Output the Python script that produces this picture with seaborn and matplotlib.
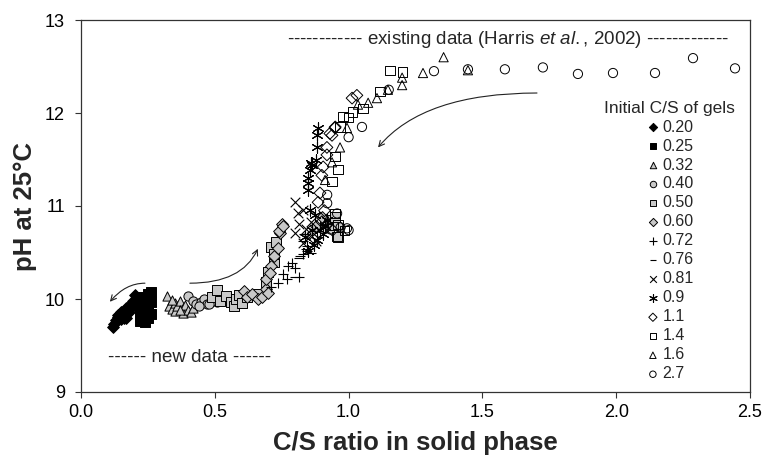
import matplotlib
matplotlib.use("Agg")
import matplotlib.pyplot as plt
import seaborn as sns

# Initial C/S of gels (legend labels)
labels = ['0.20', '0.25', '0.32', '0.40', '0.50', '0.60', '0.72', '0.76',
          '0.81', '0.9', '1.1', '1.4', '1.6', '2.7']

# new data
x_020 = [0.12, 0.125, 0.13, 0.138, 0.14, 0.145, 0.15, 0.155, 0.16, 0.164, 0.17, 0.175,
         0.18, 0.185, 0.19, 0.195, 0.20, 0.15, 0.17, 0.21, 0.16, 0.18]
y_020 = [9.70, 9.73, 9.77, 9.81, 9.83, 9.84, 9.86, 9.85, 9.87, 9.86, 9.90, 9.88,
         9.91, 9.93, 9.96, 9.98, 10.04, 9.79, 9.80, 9.91, 9.80, 9.86]
x_025 = [0.22, 0.22, 0.22, 0.23, 0.23, 0.24, 0.24, 0.25, 0.25, 0.25, 0.26, 0.26,
         0.26, 0.24, 0.23, 0.25]
y_025 = [9.76, 9.82, 9.90, 9.78, 9.95, 9.86, 10.00, 9.80, 9.92, 10.05, 9.84, 9.97,
         10.08, 9.75, 10.02, 9.88]
x_032 = [0.32, 0.33, 0.34, 0.35, 0.35, 0.36, 0.37, 0.38, 0.38, 0.39, 0.40, 0.41,
         0.34, 0.37, 0.42]
y_032 = [10.03, 9.93, 9.89, 9.96, 9.87, 9.92, 9.98, 9.90, 9.85, 9.94, 9.88, 9.86,
         9.99, 9.88, 9.90]
x_040 = [0.40, 0.42, 0.43, 0.45, 0.46, 0.47, 0.49, 0.50, 0.51, 0.53, 0.55, 0.44,
         0.48, 0.93, 0.96]
y_040 = [10.03, 9.98, 9.95, 9.97, 10.00, 9.95, 9.98, 10.02, 9.97, 10.01, 10.00, 9.93,
         9.95, 10.75, 10.78]
x_050 = [0.49, 0.51, 0.52, 0.54, 0.56, 0.57, 0.58, 0.59, 0.60, 0.62, 0.66, 0.69,
         0.70, 0.71, 0.72, 0.72, 0.73, 0.91, 0.94, 0.95, 0.96]
y_050 = [10.02, 10.10, 9.98, 10.03, 9.97, 9.93, 10.00, 10.04, 9.96, 10.02, 10.05, 10.18,
         10.29, 10.56, 10.40, 10.48, 10.61, 10.85, 10.80, 10.88, 10.67]
x_060 = [0.61, 0.62, 0.64, 0.66, 0.675, 0.69, 0.70, 0.71, 0.72, 0.735, 0.745, 0.75,
         0.74, 0.755, 0.69, 0.705, 0.88, 0.90]
y_060 = [10.09, 10.02, 10.05, 10.00, 10.02, 10.11, 10.06, 10.35, 10.46, 10.55, 10.71, 10.81,
         10.73, 10.78, 10.22, 10.28, 10.78, 10.88]
x_072 = [0.71, 0.735, 0.755, 0.77, 0.79, 0.80, 0.815, 0.83, 0.845, 0.775]
y_072 = [10.13, 10.17, 10.27, 10.22, 10.39, 10.33, 10.24, 10.48, 10.57, 10.36]
x_076 = [0.80, 0.815, 0.82, 0.83, 0.84, 0.845, 0.86, 0.835]
y_076 = [10.24, 10.44, 10.46, 10.62, 10.54, 10.52, 10.50, 10.70]
x_081 = [0.80, 0.81, 0.83, 0.80, 0.815, 0.83, 0.85, 0.87, 0.88, 0.84, 0.86]
y_081 = [11.04, 10.92, 10.96, 10.71, 10.81, 10.60, 10.66, 10.70, 10.62, 10.75, 10.83]
x_09 = [0.886, 0.882, 0.882, 0.863, 0.856, 0.848, 0.848, 0.848, 0.856, 0.837, 0.863,
        0.882, 0.893, 0.919, 0.87, 0.905, 0.91, 0.88, 0.86, 0.85, 0.875]
y_09 = [11.84, 11.76, 11.63, 11.44, 11.39, 11.30, 11.25, 11.17, 10.96, 10.67, 10.74,
        10.63, 10.74, 10.85, 10.58, 10.70, 10.78, 11.50, 11.46, 10.52, 10.90]
x_11 = [1.013, 1.031, 0.938, 0.949, 0.919, 0.919, 0.90, 0.893, 0.886, 0.90, 0.95,
        0.93, 0.905, 0.91, 0.92, 0.94]
y_11 = [12.16, 12.19, 11.76, 11.84, 11.63, 11.55, 11.33, 11.14, 11.04, 10.83, 11.85,
        11.78, 11.42, 10.95, 10.80, 10.74]
x_14 = [1.155, 1.20, 1.117, 1.054, 1.016, 0.979, 0.968, 0.949, 0.938, 0.96, 0.957,
        0.949, 0.96, 1.0, 0.985]
y_14 = [12.46, 12.44, 12.23, 12.05, 12.01, 11.96, 11.85, 11.53, 11.26, 11.39, 10.67,
        10.92, 10.80, 11.95, 10.74]
x_16 = [1.355, 1.278, 1.446, 1.20, 1.20, 1.147, 1.106, 1.073, 1.035, 0.994, 0.968,
        0.938, 0.912, 0.92]
y_16 = [12.60, 12.43, 12.46, 12.38, 12.30, 12.25, 12.16, 12.11, 12.09, 11.84, 11.63,
        11.47, 11.28, 10.85]
# existing data (Harris et al., 2002)
x_27 = [1.319, 1.446, 1.584, 1.726, 1.857, 1.988, 2.145, 2.287, 2.444, 1.15, 1.05,
        1.0, 0.92, 0.92, 0.957, 0.994, 0.97, 1.0]
y_27 = [12.45, 12.47, 12.47, 12.49, 12.42, 12.43, 12.43, 12.59, 12.48, 12.25, 11.85,
        11.74, 11.12, 11.03, 10.92, 10.76, 10.77, 10.74]

xs = [x_020, x_025, x_032, x_040, x_050, x_060, x_072, x_076, x_081, x_09, x_11, x_14, x_16, x_27]
ys = [y_020, y_025, y_032, y_040, y_050, y_060, y_072, y_076, y_081, y_09, y_11, y_14, y_16, y_27]

grey = '#c8c8c8'
markers = ['D', 's', '^', 'o', 's', 'D', '+', '_', 'x', (6, 2, 0), 'D', 's', '^', 'o']
faces = ['black', 'black', grey, grey, grey, grey, None, None, None, None,
         'none', 'none', 'none', 'none']
sizes = [36, 44, 44, 44, 44, 36, 60, 48, 48, 65, 36, 44, 44, 44]

sns.set_style("ticks")
plt.rcParams['font.family'] = ['Liberation Sans', 'DejaVu Sans']
plt.rcParams['mathtext.fontset'] = 'custom'
plt.rcParams['mathtext.rm'] = 'Liberation Sans'
plt.rcParams['mathtext.it'] = 'Liberation Sans:italic'

fig = plt.figure(figsize=(7.66, 4.55), dpi=100)
ax = fig.add_axes([81 / 766, 1 - 392 / 455, 669 / 766, 372 / 455])

for lab, x, y, m, fc, s in zip(labels, xs, ys, markers, faces, sizes):
    if fc is None:
        sns.scatterplot(x=x, y=y, marker=m, s=s, color='black', linewidth=0.8,
                        label=lab, ax=ax)
    else:
        sns.scatterplot(x=x, y=y, marker=m, s=s, facecolor=fc, edgecolor='black',
                        linewidth=0.7, label=lab, ax=ax)

ax.set_xlim(0, 2.5)
ax.set_ylim(9, 13)
ax.set_xticks([0, 0.5, 1.0, 1.5, 2.0, 2.5])
ax.set_xticklabels(['0.0', '0.5', '1.0', '1.5', '2.0', '2.5'])
ax.set_yticks([9, 10, 11, 12, 13])
ax.tick_params(direction='out', length=4.5, width=0.8, colors='#333333',
               labelcolor='black', labelsize=13)
ax.tick_params(axis='y', pad=7)
ax.tick_params(axis='x', pad=4)
for sp in ax.spines.values():
    sp.set_color('#333333')
    sp.set_linewidth(0.9)

ax.set_xlabel('C/S ratio in solid phase', fontsize=18.5, fontweight='bold', labelpad=7)
ax.set_ylabel('pH at 25°C', fontsize=18.5, fontweight='bold', labelpad=6)

ax.text(0.404, 9.37, '------ new data ------', ha='center', va='center', fontsize=13.5)
ax.text(1.595, 12.785,
        r'------------ existing data (Harris $\mathit{et\ al.}\mathrm{,}$ 2002) -------------',
        ha='center', va='center', fontsize=13.5)

arrow = dict(arrowstyle='->', color='#222222', lw=0.8, shrinkA=0, shrinkB=0)
ax.annotate('', xy=(0.108, 9.97), xytext=(0.239, 10.17),
            arrowprops=dict(arrow, connectionstyle='angle3,angleA=0,angleB=50'))
ax.annotate('', xy=(0.661, 10.54), xytext=(0.407, 10.17),
            arrowprops=dict(arrow, connectionstyle='angle3,angleA=0,angleB=65'))
ax.annotate('', xy=(1.11, 11.63), xytext=(1.704, 12.215),
            arrowprops=dict(arrow, connectionstyle='angle3,angleA=0,angleB=50'))

ax.legend(title='Initial C/S of gels', loc='upper center', bbox_to_anchor=(0.88, 0.805),
          frameon=False, fontsize=11.5, title_fontsize=12.5, handletextpad=0.15,
          labelspacing=0.25, markerscale=0.7, handlelength=0.9, borderpad=0)

fig.savefig('out.png', dpi=100)
